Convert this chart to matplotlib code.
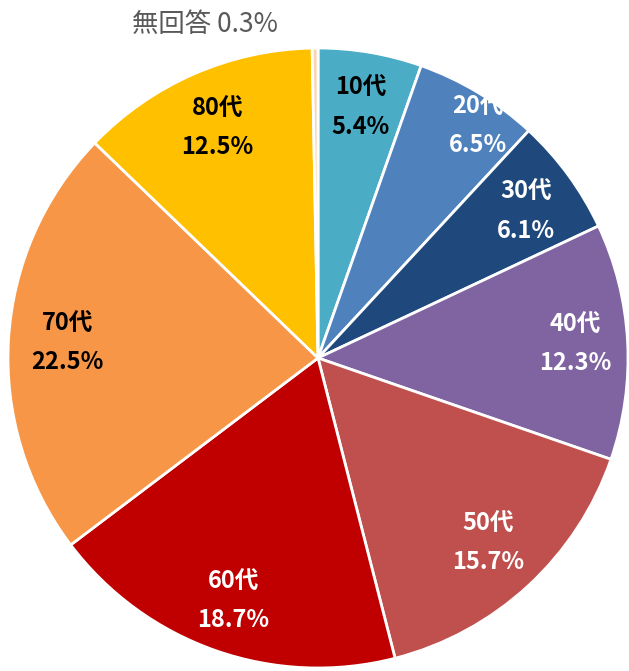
import matplotlib
matplotlib.use('Agg')
import matplotlib.pyplot as plt
import numpy as np

plt.rcParams['font.family'] = ['Noto Sans CJK JP', 'DejaVu Sans']

# data
ages = ['10代', '20代', '30代', '40代', '50代', '60代', '70代', '80代', '無回答']
shares = [5.4, 6.5, 6.1, 12.3, 15.7, 18.7, 22.5, 12.5, 0.3]
colors = ['#4BACC6', '#4F81BD', '#1F497D', '#8064A2', '#C0504D',
          '#C00000', '#F79646', '#FFC000', '#FBD4B4']
text_colors = ['black', 'white', 'white', 'white', 'white',
               'white', 'black', 'black', '#595959']
# label placement: radial distance and small angle nudge (deg, clockwise)
label_r = [0.82, 0.91, 0.82, 0.83, 0.81, 0.83, 0.81, 0.81, 0]
label_nudge = [0, 3.5, 1, 0, 0, 0, 0, 0, 0]

fig = plt.figure(figsize=(6.29, 6.71), dpi=100)
# pie centre ~ (318, 358) px, radius ~310 px
ax = fig.add_axes([8 / 629, (671 - 358 - 310) / 671, 620 / 629, 620 / 671])

wedges, _ = ax.pie(shares, colors=colors, startangle=90, counterclock=False,
                   radius=1.0, wedgeprops=dict(edgecolor='white', linewidth=2))
ax.set_xlim(-1, 1)
ax.set_ylim(-1, 1)
ax.set_aspect('equal')
ax.axis('off')

# labels
start = 90.0
for name, val, tc, r, nd in zip(ages, shares, text_colors, label_r, label_nudge):
    mid = start - val * 3.6 / 2 - nd
    start -= val * 3.6
    if name == '無回答':
        continue
    x = r * np.cos(np.radians(mid))
    y = r * np.sin(np.radians(mid))
    ax.text(x, y, f'{name}\n{val}%', ha='center', va='center', color=tc,
            fontsize=17, fontweight='bold', linespacing=1.75)

fig.text(205 / 629, 1 - 24 / 671, f'{ages[-1]} {shares[-1]}%', ha='center',
         va='center', color=text_colors[-1], fontsize=19)

fig.savefig('out.png', dpi=100)
